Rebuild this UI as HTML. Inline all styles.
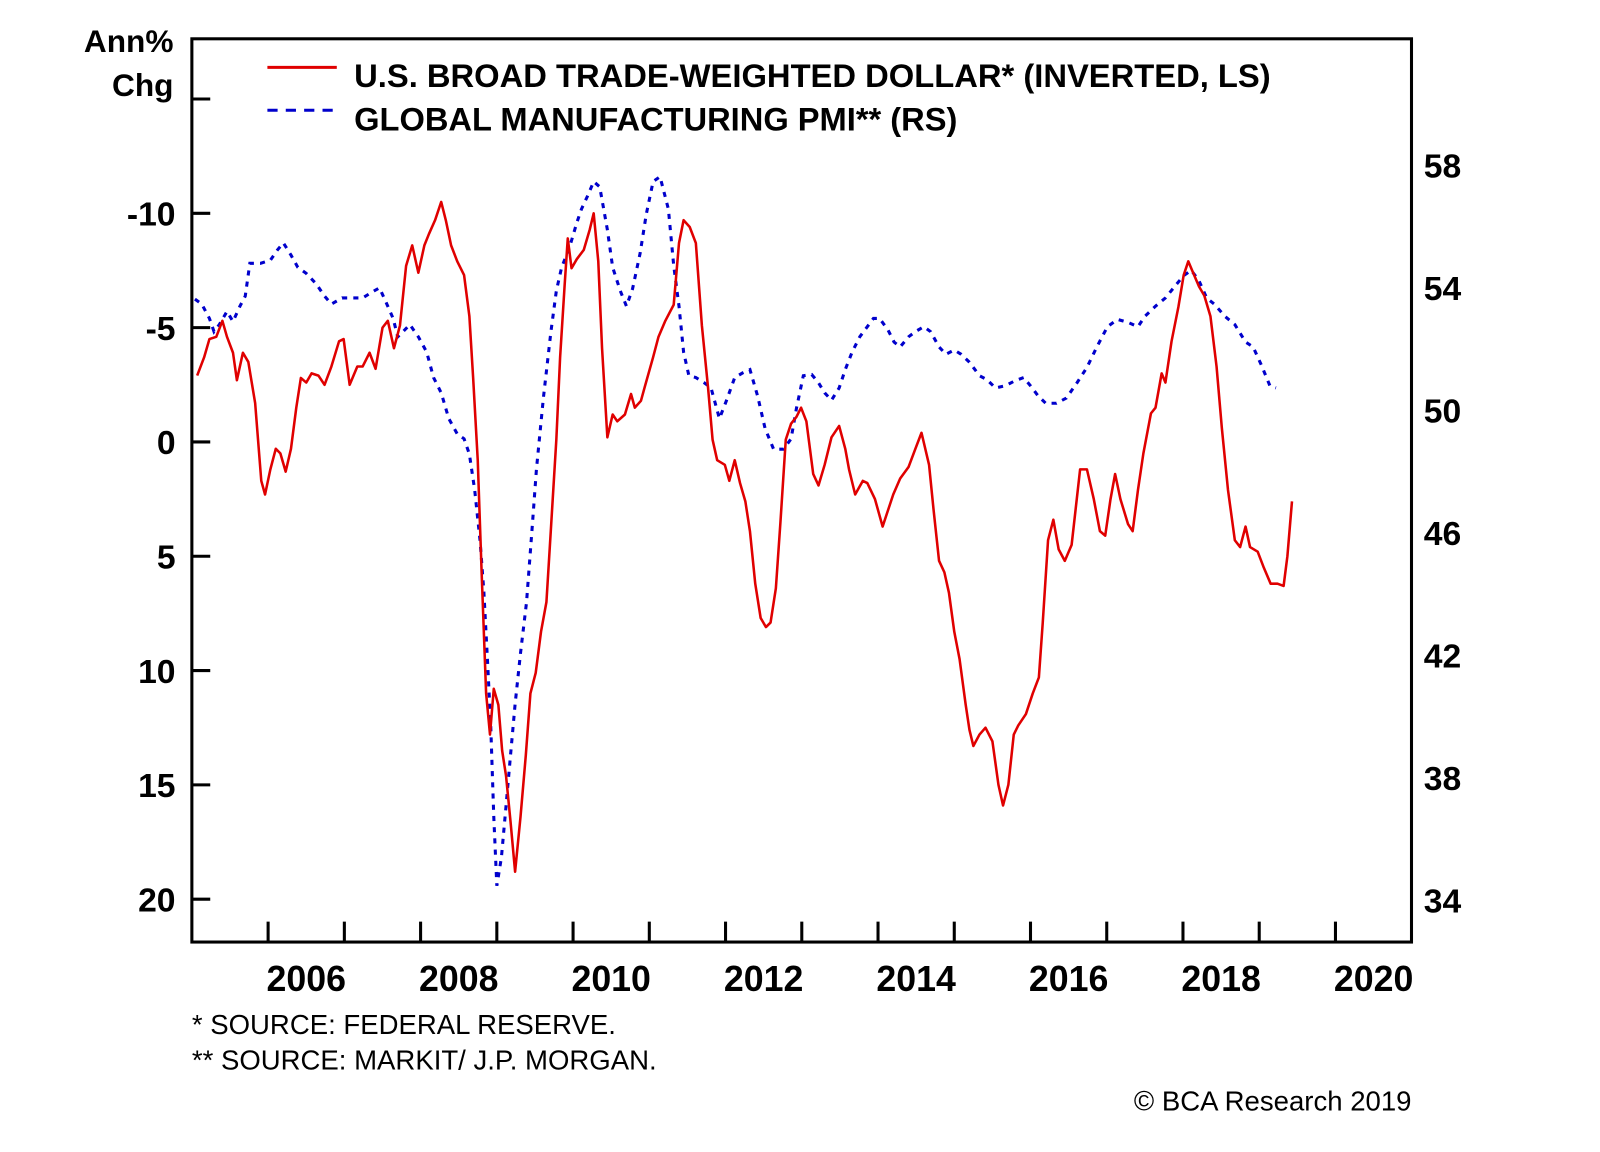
<!DOCTYPE html>
<html><head><meta charset="utf-8"><style>
html,body{margin:0;padding:0;background:#fff;}
svg{display:block;font-family:"Liberation Sans",Arial,sans-serif;font-weight:bold;}
</style></head><body>
<svg id="chart" width="1600" height="1152" viewBox="0 0 1567.7 1128.7">
<g id="plot"></g>
</svg>
<script>
const redYears=[2005.07,2005.16,2005.23,2005.32,2005.40,2005.46,2005.54,2005.59,2005.67,2005.74,2005.83,2005.91,2005.96,2006.03,2006.10,2006.16,2006.23,2006.30,2006.37,2006.43,2006.50,2006.57,2006.66,2006.74,2006.83,2006.93,2006.99,2007.07,2007.17,2007.24,2007.33,2007.41,2007.50,2007.57,2007.65,2007.73,2007.81,2007.89,2007.97,2008.05,2008.11,2008.19,2008.27,2008.33,2008.40,2008.48,2008.57,2008.64,2008.69,2008.75,2008.80,2008.86,2008.91,2008.96,2009.02,2009.07,2009.12,2009.18,2009.24,2009.31,2009.38,2009.44,2009.51,2009.58,2009.65,2009.71,2009.78,2009.83,2009.89,2009.93,2009.98,2010.05,2010.14,2010.22,2010.27,2010.33,2010.38,2010.45,2010.52,2010.58,2010.68,2010.76,2010.81,2010.89,2010.94,2011.05,2011.12,2011.21,2011.32,2011.39,2011.45,2011.53,2011.61,2011.69,2011.77,2011.83,2011.89,2011.99,2012.05,2012.12,2012.19,2012.26,2012.32,2012.39,2012.46,2012.53,2012.59,2012.66,2012.72,2012.79,2012.86,2012.93,2012.99,2013.06,2013.15,2013.22,2013.30,2013.39,2013.49,2013.57,2013.62,2013.70,2013.80,2013.86,2013.96,2014.06,2014.13,2014.20,2014.29,2014.40,2014.49,2014.57,2014.67,2014.73,2014.80,2014.87,2014.93,2015.00,2015.07,2015.15,2015.20,2015.25,2015.33,2015.41,2015.50,2015.58,2015.64,2015.71,2015.78,2015.84,2015.94,2016.03,2016.11,2016.16,2016.23,2016.30,2016.37,2016.45,2016.54,2016.65,2016.74,2016.83,2016.91,2016.98,2017.05,2017.11,2017.18,2017.28,2017.34,2017.41,2017.48,2017.58,2017.64,2017.72,2017.77,2017.85,2017.94,2018.01,2018.07,2018.12,2018.21,2018.28,2018.36,2018.44,2018.51,2018.59,2018.68,2018.75,2018.82,2018.88,2018.98,2019.06,2019.15,2019.24,2019.32,2019.37,2019.43];
const redValues=[-2.9,-3.7,-4.5,-4.6,-5.3,-4.6,-3.9,-2.7,-3.9,-3.5,-1.7,1.7,2.3,1.2,0.3,0.5,1.3,0.3,-1.5,-2.8,-2.6,-3.0,-2.9,-2.5,-3.3,-4.4,-4.5,-2.5,-3.3,-3.3,-3.9,-3.2,-5.0,-5.3,-4.1,-5.1,-7.7,-8.6,-7.4,-8.6,-9.1,-9.7,-10.5,-9.7,-8.6,-7.9,-7.3,-5.5,-2.8,0.8,5.7,11.0,12.8,10.8,11.5,13.5,14.6,16.6,18.8,16.4,13.7,11.0,10.1,8.3,7.0,3.8,-0.1,-3.7,-6.9,-8.9,-7.6,-8.0,-8.4,-9.3,-10.0,-7.9,-4.1,-0.2,-1.2,-0.9,-1.2,-2.1,-1.5,-1.8,-2.4,-3.7,-4.6,-5.3,-6.0,-8.7,-9.7,-9.4,-8.7,-5.1,-2.4,-0.1,0.8,1.0,1.7,0.8,1.8,2.6,3.9,6.2,7.7,8.1,7.9,6.4,3.5,-0.1,-0.8,-1.1,-1.5,-0.9,1.4,1.9,1.0,-0.2,-0.7,0.3,1.2,2.3,1.7,1.8,2.5,3.7,3.0,2.3,1.6,1.1,0.3,-0.4,1.0,3.0,5.2,5.7,6.6,8.3,9.5,11.5,12.6,13.3,12.8,12.5,13.1,15.0,15.9,15.0,12.8,12.4,11.9,11.0,10.3,7.9,4.3,3.4,4.7,5.2,4.5,1.2,1.2,2.5,3.9,4.1,2.5,1.4,2.5,3.6,3.9,2.1,0.5,-1.25,-1.5,-3.0,-2.6,-4.4,-5.9,-7.3,-7.9,-7.5,-6.8,-6.4,-5.5,-3.3,-0.6,2.1,4.3,4.6,3.7,4.6,4.8,5.5,6.2,6.2,6.3,5.0,2.6];
const blueYears=[2005.04,2005.13,2005.23,2005.29,2005.36,2005.46,2005.54,2005.63,2005.70,2005.76,2005.90,2006.03,2006.12,2006.20,2006.30,2006.39,2006.50,2006.63,2006.74,2006.83,2006.97,2007.10,2007.24,2007.37,2007.46,2007.54,2007.64,2007.70,2007.77,2007.86,2007.97,2008.08,2008.17,2008.27,2008.37,2008.48,2008.57,2008.64,2008.71,2008.78,2008.83,2008.88,2008.92,2008.96,2009.00,2009.06,2009.12,2009.18,2009.24,2009.31,2009.39,2009.46,2009.52,2009.61,2009.71,2009.78,2009.85,2009.95,2010.05,2010.11,2010.19,2010.27,2010.35,2010.45,2010.52,2010.62,2010.70,2010.78,2010.88,2010.96,2011.05,2011.14,2011.25,2011.32,2011.39,2011.45,2011.52,2011.61,2011.72,2011.81,2011.92,2012.01,2012.12,2012.23,2012.32,2012.42,2012.52,2012.63,2012.76,2012.86,2012.93,2013.02,2013.13,2013.22,2013.30,2013.39,2013.49,2013.57,2013.66,2013.76,2013.86,2013.94,2014.02,2014.13,2014.21,2014.29,2014.40,2014.49,2014.60,2014.69,2014.80,2014.89,2015.00,2015.09,2015.20,2015.33,2015.43,2015.54,2015.67,2015.80,2015.91,2016.00,2016.10,2016.20,2016.34,2016.47,2016.61,2016.74,2016.87,2017.01,2017.14,2017.28,2017.41,2017.50,2017.64,2017.77,2017.90,2018.01,2018.11,2018.21,2018.31,2018.41,2018.55,2018.68,2018.82,2018.92,2019.03,2019.14,2019.22];
const blueValues=[53.63,53.47,53.0,52.57,52.8,53.23,52.9,53.4,53.73,54.8,54.8,54.9,55.23,55.47,55.07,54.67,54.47,54.13,53.73,53.47,53.67,53.67,53.67,53.87,54.0,53.57,53.0,52.4,52.57,52.8,52.4,51.9,51.07,50.57,49.73,49.23,49.07,48.57,47.4,45.73,44.07,41.73,39.73,36.73,34.47,35.4,37.07,38.73,40.4,42.07,43.73,46.07,48.07,50.4,52.57,53.9,54.67,55.3,56.13,56.57,57.0,57.47,57.3,55.9,54.67,53.9,53.4,53.97,55.13,56.4,57.47,57.63,56.57,54.73,53.4,51.9,51.13,51.07,50.9,50.73,49.73,50.3,51.07,51.23,51.33,50.47,49.4,48.73,48.73,49.07,50.07,51.13,51.17,50.9,50.57,50.33,50.73,51.33,51.9,52.4,52.73,53.0,53.0,52.63,52.23,52.07,52.4,52.57,52.73,52.57,52.07,51.83,51.97,51.83,51.57,51.13,51.0,50.73,50.8,50.97,51.07,50.8,50.47,50.23,50.23,50.4,50.9,51.4,52.07,52.73,52.97,52.87,52.73,53.07,53.4,53.67,54.07,54.4,54.57,54.23,53.67,53.47,53.07,52.8,52.23,52.07,51.47,50.8,50.73];
const leftTicks=[-15,-10,-5,0,5,10,15,20];
const leftLabels=["","-10","-5","0","5","10","15","20"];
const rightTicks=[58,54,50,46,42,38,34];
const xYears=[2006,2007,2008,2009,2010,2011,2012,2013,2014,2015,2016,2017,2018,2019,2020];
const xLabels=[2006,2008,2010,2012,2014,2016,2018,2020];

const L=188,R=1383,T=38,B=923;
const xs=y=>L+(y-2005)*74.7;
const yl=v=>433+v*22.4;
const yr=v=>402-(v-50)*30;
const NS="http://www.w3.org/2000/svg";
const g=document.getElementById('plot');
function mk(tag,attrs,parent){const e=document.createElementNS(NS,tag);for(const k in attrs)e.setAttribute(k,attrs[k]);(parent||g).appendChild(e);return e;}

const frame=mk('rect',{x:L,y:T,width:R-L,height:B-T,fill:'none',stroke:'#000','stroke-width':3});



leftTicks.forEach((v,i)=>{
  const t=mk('line',{x1:L,x2:L+18,y1:yl(v),y2:yl(v),stroke:'#000','stroke-width':3});
  
  
  if(leftLabels[i]){
    const tx=mk('text',{x:172,y:yl(v)+12,'text-anchor':'end','font-size':33,fill:'#000'});
    tx.textContent=leftLabels[i];
    
    
  }
});
rightTicks.forEach(v=>{
  const tx=mk('text',{x:1395,y:yr(v)+12,'font-size':33,fill:'#000'});
  tx.textContent=v;
  
  
});
xYears.forEach(y=>{
  const t=mk('line',{x1:xs(y),x2:xs(y),y1:B,y2:B-20,stroke:'#000','stroke-width':3});
  
  
});
xLabels.forEach(y=>{
  const tx=mk('text',{x:xs(y+0.5),y:971,'text-anchor':'middle','font-size':35,fill:'#000'});
  tx.textContent=y;
  
  
});

const bp=mk('path',{d:blueYears.map((y,i)=>(i?'L':'M')+xs(y).toFixed(1)+','+yr(blueValues[i]).toFixed(1)).join(''),fill:'none',stroke:'#0000cc','stroke-width':3,'stroke-dasharray':'5 6'});


const rp=mk('path',{d:redYears.map((y,i)=>(i?'L':'M')+xs(y).toFixed(1)+','+yl(redValues[i]).toFixed(1)).join(''),fill:'none',stroke:'#e00000','stroke-width':2.5,'stroke-linejoin':'round'});


</script>
<svg style="position:absolute;left:0;top:0" width="1600" height="1152" viewBox="0 0 1567.7 1128.7">
<g font-family="Liberation Sans, Arial, sans-serif" font-weight="bold" fill="#000">
<text x="170" y="51" text-anchor="end" font-size="31">Ann%</text>
<text x="170" y="94" text-anchor="end" font-size="31">Chg</text>
<line x1="262" y1="66" x2="330" y2="66" stroke="#e00000" stroke-width="3"/>
<text x="347" y="85" font-size="32" textLength="898" lengthAdjust="spacingAndGlyphs">U.S. BROAD TRADE-WEIGHTED DOLLAR* (INVERTED, LS)</text>
<line x1="262" y1="108" x2="330" y2="108" stroke="#0000cc" stroke-width="3" stroke-dasharray="10 8"/>
<text x="347" y="128" font-size="32">GLOBAL MANUFACTURING PMI** (RS)</text>
<text x="188" y="1013" font-size="27" font-weight="normal">* SOURCE: FEDERAL RESERVE.</text>
<text x="188" y="1048" font-size="27" font-weight="normal">** SOURCE: MARKIT/ J.P. MORGAN.</text>
<text x="1383" y="1088" text-anchor="end" font-size="27" font-weight="normal">© BCA Research 2019</text>
</g></svg>
</body></html>
